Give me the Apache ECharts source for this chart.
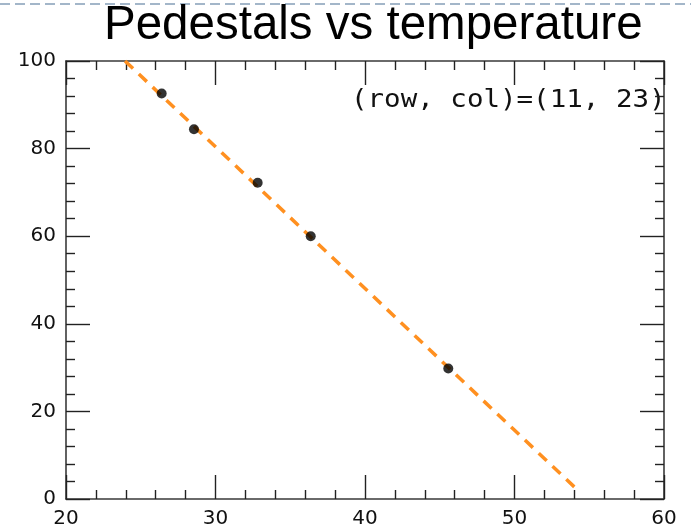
<!DOCTYPE html>
<html><head><meta charset="utf-8">
<script src="https://cdn.jsdelivr.net/npm/echarts@6/dist/echarts.min.js"></script>
<style>html,body{margin:0;padding:0;background:#fff}#c{width:691px;height:530px}</style>
</head><body><div id="c"></div>
<script>
const titleText = 'Pedestals vs temperature';
const annotation = '(row, col)=(11, 23)';
const temperature = [26.4, 28.56, 32.82, 36.37, 45.57];
const pedestal = [92.6, 84.4, 72.2, 60.0, 29.8];
const fitX = [23.95, 54.33];
const fitY = [100, 1.7];
const xTicks = [20, 30, 40, 50, 60];
const yTicks = [0, 20, 40, 60, 80, 100];

const chart = echarts.init(document.getElementById('c'));
function ax() { return {
  type: 'value',
  axisLine: { show: true, onZero: false, lineStyle: { color: '#3a3a3a', width: 1.6 } },
  axisTick: { show: true, inside: true, length: 24, lineStyle: { color: '#222', width: 1.4 } },
  minorTick: { show: true, splitNumber: 5, length: 9, lineStyle: { color: '#222', width: 1.4 } },
  splitLine: { show: false },
  axisLabel: { show: false }
};}
const lab = { show: true, color: '#111', fontSize: 20, fontFamily: 'DejaVu Sans', margin: 10 };
chart.setOption({
  animation: false,
  title: { text: titleText, left: 99, top: -3, textStyle: { fontFamily: 'Liberation Sans', fontWeight: 'normal', fontSize: 47.5, color: '#000' } },
  grid: { left: 66, right: 27, top: 61, bottom: 31 },
  xAxis: [
    Object.assign(ax(), { position: 'bottom', min: xTicks[0], max: xTicks[xTicks.length-1], interval: 10, axisLabel: lab }),
    Object.assign(ax(), { position: 'top', min: xTicks[0], max: xTicks[xTicks.length-1], interval: 10 })
  ],
  yAxis: [
    Object.assign(ax(), { position: 'left', min: yTicks[0], max: yTicks[yTicks.length-1], interval: 20, axisLabel: lab }),
    Object.assign(ax(), { position: 'right', min: yTicks[0], max: yTicks[yTicks.length-1], interval: 20 })
  ],
  graphic: [
    { type: 'line', shape: { x1: 0, y1: 4, x2: 691, y2: 4 }, style: { stroke: '#a3b6c9', lineWidth: 2, lineDash: [10, 5] }, silent: true },
    { type: 'text', x: 351, y: 88, scaleX: 1.1, style: { text: annotation, font: '25px "DejaVu Sans Mono"', fill: '#111' } }
  ],
  series: [
    { type: 'line', data: fitX.map((x, i) => [x, fitY[i]]), symbol: 'none', lineStyle: { color: '#ff9020', width: 3.5, type: [11, 8] }, z: 2 },
    { type: 'scatter', data: temperature.map((x, i) => [x, pedestal[i]]), symbolSize: 10, itemStyle: { color: '#000' }, z: 3 }
  ]
});
</script></body></html>
